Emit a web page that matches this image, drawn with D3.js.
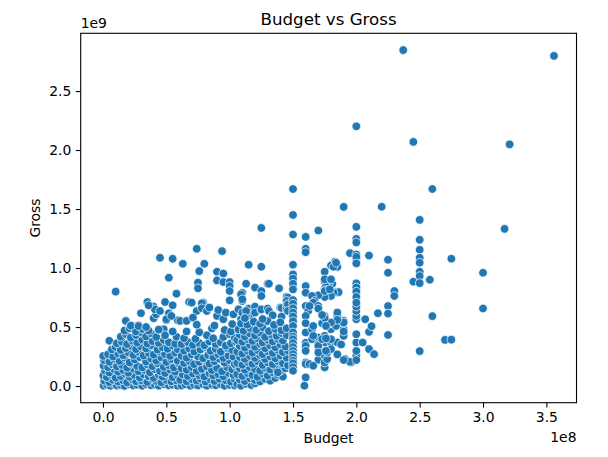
<!DOCTYPE html>
<html>
<head>
<meta charset="utf-8">
<script src="https://cdn.jsdelivr.net/npm/d3@7"></script>
<style>
  body { margin: 0; background: #fff; }
  text { font-family: "DejaVu Sans", sans-serif; fill: #000; }
</style>
</head>
<body>
<div id="chart"></div>
<script>
// all values in millions of dollars: [budget, gross]
const bigHits = [
  [237,2847],[356,2798],[200,2201],[245,2069],[321,2048],[150,1670],[260,1670],[190,1518],[220,1519],
  [150,1450],[250,1408],[125,1340],[200,1349],[317,1332],[170,1318],[150,1284],[160,1264],[200,1247],
  [250,1239],[200,1217],[74,1163],[250,1155],[160,1163],[94,1143],[160,1134],[195,1126],[200,1115],
  [210,1106],[250,1087],[55,1078],[275,1079],[200,1081],[200,1047],[225,1070],[183,1053],[250,1045],
  [63,1036],[80,1036],[115,1028],[150,1028],[180,1022],[185,1010],[125,1011],[45,1087],[200,1095],
  [200,1039],[76,974],[175,969],[300,960],[90,969],[225,960],[250,969],[95,954],[150,946],[250,932],
  [150,910],[52,918],[258,901],[90,895],[245,884],[175,884],[95,881],[100,881],[75,876],[250,872],
  [130,867],[113,867],[131,867],[200,870],[181,867],[178,861],[150,867],[160,847],[100,847],[200,836],
  [120,834],[139,828],[75,828],[150,819],[178,819],[175,825],[10,800],[230,805],[125,805],[100,805],
  [110,791],[160,791],[184,796],[186,796],[182,791],[200,800],[58,783],[177,777],[230,763],[180,763],
  [175,754],[200,755],[109,777],[170,769],[165,763],[145,757],[146,749],[176,889],[176,842],[176,813],
  [175,805],[179,819],[175,904],[180,904],[182,1011],[184,1045]
];

const upperScatter = [
  [35,712],[40,673],[49,712],[55,684],[68,712],[70,707],[79,707],[78,701],[30,617],[40,574],[52,617],
  [50,557],[59,557],[18,552],[22,515],[28,515],[48,481],[50,566],[54,594],[42,608],[41,650],[45,636],
  [36,684],[74,636],[78,659],[82,636],[84,665],[61,552],[66,552],[71,580],[90,594],[95,566],[91,644],
  [97,622],[103,608],[100,726],[110,720],[110,735],[109,566],[107,650],[110,622],[115,656],[117,622],
  [117,594],[113,594],[113,636],[120,673],[120,622],[125,644],[125,650],[130,656],[131,636],[134,600],
  [140,665],[141,661],[141,589],[145,721],[145,684],[145,650],[146,693],[146,636],[125,763],[5,383],[10,346]
];

const denseLow = [
  [0.5,3],[3,12],[6,2],[9,15],[11,4],[14,9],[17,1],[21,14],[24,5],[27,11],[31,2],[34,16],[38,6],[41,12],
  [44,3],[48,15],[52,5],[55,11],[59,2],
  [1,45],[5,33],[8,52],[12,38],[16,47],[19,30],[23,55],[26,40],[30,49],[35,34],[39,58],[42,43],[46,31],
  [50,51],[54,39],[58,47],
  [0.3,88],[3,76],[7,95],[10,70],[14,84],[18,101],[21,78],[25,92],[29,72],[32,98],[36,83],[40,69],[44,94],
  [47,79],[51,103],[55,74],[59,90],
  [1.5,130],[5,115],[9,140],[12,121],[16,134],[20,112],[24,146],[28,125],[33,137],[37,116],[41,142],
  [45,126],[49,110],[53,138],[57,122],
  [0.5,172],[4,160],[7,185],[11,166],[15,178],[19,155],[22,190],[27,170],[31,158],[35,183],[39,168],
  [43,193],[48,162],[52,176],[56,157],[60,188],
  [1,218],[5,205],[9,230],[13,212],[17,240],[21,200],[25,225],[29,245],[34,208],[38,232],[42,215],
  [46,242],[50,204],[54,228],[59,214],
  [0.2,255],[4,268],[8,250],[12,275],[16,260],[20,285],[24,263],[28,290],[32,258],[36,279],[40,266],
  [45,292],[49,270],[53,255],[57,282],
  [7,310],[10,330],[14,305],[18,322],[22,340],[26,312],[30,335],[34,318],[38,345],[43,308],[47,328],
  [51,316],[55,342],[59,312],
  [11,362],[15,375],[19,355],[23,385],[27,368],[31,392],[35,360],[39,380],[44,365],[48,390],[52,370],[57,358],
  [14,418],[18,440],[22,410],[26,432],[30,455],[34,420],[38,445],[42,415],[49,430],[58,418],
  [17,470],[21,490],[26,462],[31,484],[36,470],[44,478],[55,462],
  [22,512],[28,508],[34,500]
];

const denseMid = [
  [62,4],[65,14],[69,2],[72,11],[75,5],[79,16],[82,3],[86,12],[89,6],[93,15],[96,2],[100,10],[104,4],
  [61,52],[66,40],[70,58],[74,45],[77,62],[81,37],[85,55],[88,42],[92,60],[97,48],[101,35],[104,57],
  [63,98],[67,85],[71,105],[76,92],[80,80],[84,108],[87,90],[91,100],[95,83],[99,110],[103,94],
  [62,150],[66,138],[70,160],[74,128],[78,145],[82,165],[86,135],[90,152],[94,125],[98,160],[102,142],[105,168],
  [64,195],[68,212],[72,185],[76,205],[80,222],[84,190],[88,210],[92,230],[96,198],[100,218],[104,186],
  [62,255],[66,240],[70,268],[75,250],[79,235],[83,262],[87,245],[91,270],[95,238],[99,258],[103,248],
  [64,300],[68,318],[72,292],[77,310],[81,330],[85,298],[89,315],[93,290],[98,322],[102,305],
  [62,355],[67,372],[71,348],[76,365],[80,345],[84,378],[89,356],[93,370],[97,342],[101,362],[105,375],
  [64,405],[73,400],[82,430],[87,405],[95,415],[100,440],[104,408],
  [66,462],[76,455],[86,488],[96,475],[101,462],
  [74,520],[88,512],[102,525]
];

const denseHigh = [
  [106,15],[109,3],[113,18],[117,8],[120,22],
  [108,55],[112,42],[116,65],[120,50],[124,38],[128,60],[132,45],[136,68],
  [106,100],[110,85],[114,110],[118,92],[122,78],[126,105],[130,88],[134,115],[138,96],[142,80],
  [108,150],[112,138],[116,160],[120,145],[124,130],[128,155],[132,140],[136,165],[140,128],[144,150],[138,116],
  [106,195],[110,180],[114,205],[118,188],[122,210],[126,178],[130,200],[134,185],[138,212],[142,192],[146,175],
  [108,245],[112,230],[116,255],[120,238],[124,262],[128,228],[132,250],[136,235],[140,258],[145,240],
  [106,290],[110,275],[114,300],[118,282],[122,305],[126,270],[130,295],[134,280],[138,308],[142,287],[146,300],
  [108,340],[112,325],[116,350],[120,332],[124,358],[128,320],[132,345],[136,328],[140,352],[144,335],
  [106,390],[110,375],[114,398],[118,382],[122,405],[126,370],[130,392],[134,378],[138,400],[142,385],
  [108,435],[112,420],[116,445],[120,428],[124,452],[128,415],[133,440],[137,425],[141,448],[145,430],
  [107,480],[111,468],[116,492],[121,475],[126,498],[131,465],[136,485],[141,472],[145,490],
  [109,530],[114,520],[119,545],[124,528],[130,550],[135,518],[140,540],
  [112,575],[126,568]
];

const midSpread = [
  [150,729],[150,698],[150,659],[150,622],[150,589],[150,550],[150,509],[150,454],[150,420],[150,397],
  [150,363],[150,330],[150,298],[150,270],[150,242],[150,215],[150,192],[150,160],[150,129],
  [160,678],[162,636],[160,594],[160,532],[160,454],[160,366],[160,340],[160,298],[160,200],[160,186],
  [160,73],[159,3],[165,684],[167,721],[166,707],[163,678],[170,678],[170,656],[165,481],[165,397],
  [170,411],[170,355],[170,298],[170,222],[175,369],[175,256],[175,158],[175,200],[177,228],[163,186],
  [180,369],[180,481],[176,552],[175,594],[180,532],[184,552],[184,509],[190,552],[190,481],[190,425],
  [185,594],[185,623],[166,425],[166,509],[170,340],[170,284],[177,284],[180,313],[185,369],[190,462],
  [188,352],[190,538],[185,560],[177,524],[180,538],[173,532],[175,577],[173,602],[180,397],[175,425],
  [173,397],[166,172],[191,228],[196,200],[195,205],[190,220],[185,268],[200,256],[200,298],[200,369],
  [200,439],[200,220],[200,566],[200,594],[200,636],[200,673],[200,707],[207,566],[210,459],[205,369],
  [210,313],[214,270],[212,507],[217,617],[225,678],[225,614],[225,433],[250,296],[260,592],[300,657],
  [270,391],[275,393],[176,509],[176,403],[176,298]
];

const xTicks = [0, 0.5e8, 1e8, 1.5e8, 2e8, 2.5e8, 3e8, 3.5e8];
const xTickLabels = ["0.0", "0.5", "1.0", "1.5", "2.0", "2.5", "3.0", "3.5"];
const yTicks = [0, 0.5e9, 1e9, 1.5e9, 2e9, 2.5e9];
const yTickLabels = ["0.0", "0.5", "1.0", "1.5", "2.0", "2.5"];

const width = 608, height = 457;
const margin = { top: 33.3, right: 31.5, bottom: 54.3, left: 80.7 };
const innerW = width - margin.left - margin.right;
const innerH = height - margin.top - margin.bottom;

const movies = [].concat(bigHits, upperScatter, denseLow, denseMid, denseHigh, midSpread)
  .map(d => ({ budget: d[0] * 1e6, gross: d[1] * 1e6 }));

// matplotlib style 5% padding
const pad = ([lo, hi]) => [lo - (hi - lo) * 0.05, hi + (hi - lo) * 0.05];

const x = d3.scaleLinear()
  .domain(pad(d3.extent(movies, d => d.budget)))
  .range([0, innerW]);
const y = d3.scaleLinear()
  .domain(pad(d3.extent(movies, d => d.gross)))
  .range([innerH, 0]);

const svg = d3.select("#chart").append("svg")
  .attr("width", width)
  .attr("height", height);

const g = svg.append("g")
  .attr("transform", `translate(${margin.left},${margin.top})`);

g.append("g")
  .selectAll("circle")
  .data(movies)
  .join("circle")
    .attr("cx", d => x(d.budget))
    .attr("cy", d => y(d.gross))
    .attr("r", 4.3)
    .attr("fill", "#1f77b4")
    .attr("stroke", "#fff")
    .attr("stroke-width", 0.7);

const xAxis = g.append("g")
  .attr("transform", `translate(0,${innerH})`)
  .call(d3.axisBottom(x).tickValues(xTicks).tickFormat((d, i) => xTickLabels[i])
    .tickSize(4.9).tickPadding(4.5).tickSizeOuter(0));
const yAxis = g.append("g")
  .call(d3.axisLeft(y).tickValues(yTicks).tickFormat((d, i) => yTickLabels[i])
    .tickSize(4.9).tickPadding(4.5).tickSizeOuter(0));

[xAxis, yAxis].forEach(a => {
  a.select(".domain").remove();
  a.selectAll(".tick line").attr("stroke", "#000").attr("stroke-width", 1.1);
  a.selectAll(".tick text").style("font-size", "13.9px").style("font-family", "DejaVu Sans");
});

// frame
g.append("rect")
  .attr("width", innerW)
  .attr("height", innerH)
  .attr("fill", "none")
  .attr("stroke", "#000")
  .attr("stroke-width", 1.1);

// title and labels
svg.append("text")
  .attr("x", margin.left + innerW / 2)
  .attr("y", 24.5)
  .attr("text-anchor", "middle")
  .style("font-size", "16.7px")
  .text("Budget vs Gross");

svg.append("text")
  .attr("x", margin.left + innerW / 2)
  .attr("y", 443)
  .attr("text-anchor", "middle")
  .style("font-size", "13.9px")
  .text("Budget");

svg.append("text")
  .attr("transform", `translate(40,${margin.top + innerH / 2}) rotate(-90)`)
  .attr("text-anchor", "middle")
  .style("font-size", "13.9px")
  .text("Gross");

svg.append("text")
  .attr("x", margin.left)
  .attr("y", 28)
  .style("font-size", "13.9px")
  .text("1e9");

svg.append("text")
  .attr("x", margin.left + innerW)
  .attr("y", 442)
  .attr("text-anchor", "end")
  .style("font-size", "13.9px")
  .text("1e8");
</script>
</body>
</html>
